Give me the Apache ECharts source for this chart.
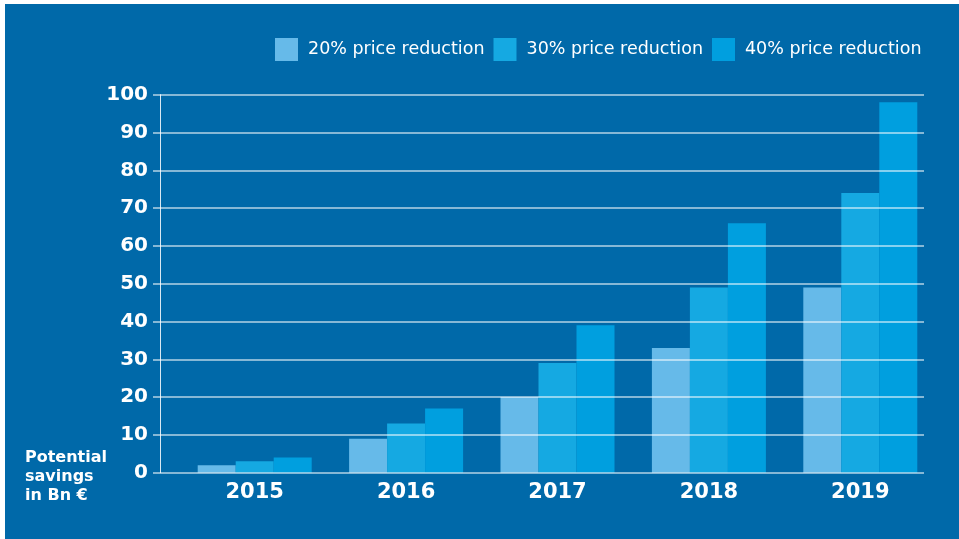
<!DOCTYPE html>
<html>
<head>
<meta charset="utf-8">
<script src="https://cdn.jsdelivr.net/npm/echarts@6/dist/echarts.min.js"></script>
<style>
  body { margin: 0; background: #fff; }
  #panel { position: absolute; left: 5px; top: 4px; right: 0; bottom: 0; background: #0069a9; }
  #chart { position: absolute; left: 0; top: 0; width: 959px; height: 539px; }
</style>
</head>
<body>
<div id="panel"></div>
<div id="chart"></div>
<script>
const years = ["2015", "2016", "2017", "2018", "2019"];
const cut20 = [2, 9, 20, 33, 49];
const cut30 = [3, 13, 29, 49, 74];
const cut40 = [4, 17, 39, 66, 98];
const seriesNames = ["20% price reduction", "30% price reduction", "40% price reduction"];
const colors = ["#66bae9", "#15a9e2", "#009fdf"];

const chart = echarts.init(document.getElementById("chart"));
const font = "DejaVu Sans";

chart.setOption({
  animation: false,
  color: colors,
  title: {
    text: "Potential\nsavings\nin Bn €",
    left: 25,
    top: 448,
    padding: 0,
    textStyle: { color: "#fff", fontFamily: font, fontWeight: "bold", fontSize: 16, lineHeight: 19 }
  },
  legend: {
    left: 275,
    top: 38,
    padding: 0,
    itemWidth: 23,
    itemHeight: 23,
    itemGap: 9,
    icon: "rect",
    textStyle: { color: "#fff", fontFamily: font, fontSize: 17.5, padding: [0, 0, 0, 5] }
  },
  grid: [
    { left: 179, right: 23, top: 94.7, bottom: 66.3 },
    { left: 153, right: 35, top: 94.7, bottom: 66.3 }
  ],
  xAxis: [
    {
      type: "category",
      gridIndex: 0,
      data: years,
      axisLine: { show: false },
      axisTick: { show: false },
      axisLabel: { color: "#fff", fontFamily: font, fontWeight: "bold", fontSize: 21, margin: 9 }
    },
    { type: "value", gridIndex: 1, show: false, min: 0, max: 1 }
  ],
  yAxis: [
    {
      type: "value",
      gridIndex: 0,
      min: 0,
      max: 100,
      interval: 10,
      offset: 19,
      axisLine: { show: true, lineStyle: { color: "rgba(255,255,255,0.85)", width: 1 } },
      axisTick: { show: false },
      splitLine: { show: false },
      axisLabel: { color: "#fff", fontFamily: font, fontWeight: "bold", fontSize: 20, margin: 12 }
    },
    {
      type: "value",
      gridIndex: 1,
      min: 0,
      max: 100,
      interval: 10,
      z: 10,
      axisLine: { show: false },
      axisTick: { show: false },
      axisLabel: { show: false },
      splitLine: { show: true, lineStyle: { color: "rgba(255,255,255,0.7)", width: 1.5 } }
    }
  ],
  series: [
    { name: seriesNames[0], type: "bar", data: cut20, barWidth: 38, barGap: "0%" },
    { name: seriesNames[1], type: "bar", data: cut30, barWidth: 38, barGap: "0%" },
    { name: seriesNames[2], type: "bar", data: cut40, barWidth: 38, barGap: "0%" }
  ]
});
</script>
</body>
</html>
